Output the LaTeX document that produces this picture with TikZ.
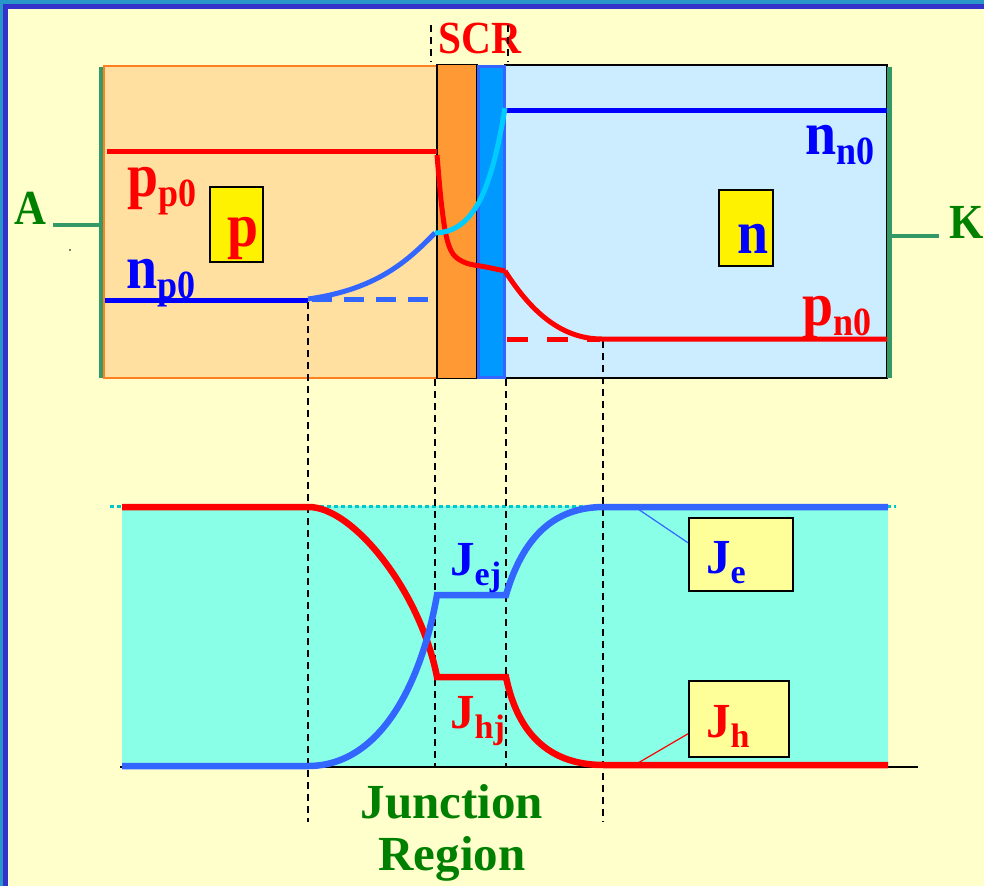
\documentclass[tikz,border=0pt]{standalone}
\usepackage{fontspec}
\setmainfont{Liberation Serif}
\newfontfamily\tallf[FakeStretch=0.9]{Liberation Serif}
\definecolor{bgyellow}{RGB}{255,255,204}
\definecolor{frameblue}{RGB}{51,51,204}
\definecolor{frameteal}{RGB}{40,150,200}
\definecolor{pregion}{RGB}{255,224,160}
\definecolor{porange}{RGB}{255,128,32}
\definecolor{scrorange}{RGB}{255,153,51}
\definecolor{stripblue}{RGB}{0,153,255}
\definecolor{stripborder}{RGB}{51,102,255}
\definecolor{nregion}{RGB}{204,236,255}
\definecolor{wiregreen}{RGB}{51,153,102}
\definecolor{txtgreen}{RGB}{0,128,0}
\definecolor{lblue}{RGB}{51,102,255}
\definecolor{cyanc}{RGB}{0,204,255}
\definecolor{aqua}{RGB}{136,255,230}
\definecolor{dotcyan}{RGB}{0,200,200}
\definecolor{jyellow}{RGB}{255,255,153}
\newcommand\mylab[2]{{\tallf\bfseries\fontsize{62}{62}\selectfont #1}\raisebox{-10pt}{\tallf\bfseries\fontsize{40}{40}\selectfont #2}}
\newcommand\jlab[2]{{\bfseries\fontsize{49}{49}\selectfont #1}\raisebox{-10pt}{\bfseries\fontsize{34}{34}\selectfont #2}}
\begin{document}
\begin{tikzpicture}[x=1pt,y=-1pt,
  guide/.style={black, line width=1.3, dash pattern=on 7pt off 5pt},
  wire/.style={wiregreen, line width=4.5},
  topcurve/.style={line width=5},
  botcurve/.style={line width=6.5},
  ybox/.style={draw=black, line width=1.5, fill=yellow, anchor=north west, inner sep=0},
  jbox/.style={draw=black, line width=1.5, fill=jyellow, anchor=north west, inner sep=0},
  lbl/.style={anchor=base west, inner sep=0},
  big/.style={font=\tallf\bfseries\fontsize{49}{49}\selectfont, inner sep=0}]
\useasboundingbox (0,0) rectangle (984,886);
% frame and background
\fill[frameteal] (0,0) rectangle (984,886);
\fill[frameblue] (3,4) rectangle (984,886);
\fill[bgyellow] (8,9) rectangle (984,886);
\fill[black] (70,250) circle (0.8);

% ---------- top device ----------
\filldraw[fill=pregion, draw=porange, line width=1.5] (104,66) rectangle (437,378);
\filldraw[fill=nregion, draw=black, line width=1.2] (505,65) rectangle (887,378);
\filldraw[fill=scrorange, draw=black, line width=1.2] (437,64.5) rectangle (477,378.5);
\filldraw[fill=stripblue, draw=stripborder, line width=3] (478.5,66.5) rectangle (504,377);

% contacts
\coordinate (Ltop) at (101,67);
\coordinate (Lbot) at (101,378);
\coordinate (Lmid) at (101,225);
\coordinate (Rtop) at (889.5,67);
\coordinate (Rbot) at (889.5,378);
\coordinate (Rmid) at (889.5,236);
\coordinate (Aend) at (53,225);
\coordinate (Kend) at (939,236);
\draw[wire] (Ltop) -- (Lbot);
\draw[wire] (Rtop) -- (Rbot);
\draw[wire, line cap=butt] (Aend) -- (Lmid);
\draw[wire, line cap=butt] (Rmid) -- (Kend);
\node[big, text=txtgreen, anchor=base west] (A) at (14,224) {A};
\node[big, text=txtgreen, anchor=base west] (K) at (949,238) {K};

% SCR
\node[inner sep=0, anchor=base, text=red, font=\tallf\bfseries\fontsize{46}{46}\selectfont] (SCR) at (480,53) {SCR};
\coordinate (g1a) at (431,25); \coordinate (g1b) at (431,62);
\coordinate (g2a) at (508,25); \coordinate (g2b) at (508,62);
\draw[guide] (g1a) -- (g1b);
\draw[guide] (g2a) -- (g2b);

% vertical guides
\coordinate (v1a) at (308,302); \coordinate (v1b) at (308,822);
\coordinate (v2a) at (435,379); \coordinate (v2b) at (435,766);
\coordinate (v3a) at (506,379); \coordinate (v3b) at (506,766);
\coordinate (v4a) at (603,341); \coordinate (v4b) at (603,822);

% ---------- bottom graph fill ----------
\fill[aqua] (122,506) rectangle (888,766);
\draw[dotcyan, line width=3, dash pattern=on 4pt off 3pt] (110,506) -- (896,506);
\draw[black, line width=1.2] (120,767) -- (918,767);

\draw[guide] (v1a) -- (v1b);
\draw[guide] (v2a) -- (v2b);
\draw[guide] (v3a) -- (v3b);
\draw[guide] (v4a) -- (v4b);

% top curves
\draw[topcurve, red] (107,151.5) -- (437,151.5);
\draw[topcurve, red] plot[smooth, tension=0.55] coordinates {(437,155) (441,200) (446,235) (453,254) (466,263) (486,267) (505,271)};
\draw[topcurve, red] (505,271) .. controls (530,310) and (560,339) .. (602,339) -- (887,339);
\draw[topcurve, red, dash pattern=on 21pt off 19pt] (507,339) -- (600,339);
\draw[topcurve, blue] (505,110) -- (887,110);
\draw[topcurve, blue] (105,300) -- (308,300);
\draw[topcurve, lblue, dash pattern=on 20pt off 12pt] (312,299) -- (436,299);
\draw[topcurve, lblue] (308,299) .. controls (380,289) and (410,258) .. (435,233);
\draw[topcurve, cyanc] (435,233) .. controls (476,232) and (492,185) .. (505,108);

% top labels
\node[lbl, text=red] (pp0) at (127,196) {\mylab{p}{p0}};
\node[lbl, text=blue] (np0) at (126,288) {\mylab{n}{p0}};
\node[lbl, text=blue] (nn0) at (805,154) {\mylab{n}{n0}};
\node[lbl, text=red] (pn0) at (802,325) {\mylab{p}{n0}};

\node[ybox, minimum width=53, minimum height=75] (pbox) at (209,186) {};
\node[anchor=base east, inner sep=0, text=red, font=\tallf\bfseries\fontsize{62}{62}\selectfont] (ptext) at ([xshift=-5pt, yshift=16pt]pbox.south east) {p};
\node[ybox, minimum width=54, minimum height=76] (nbox) at (718,189) {};
\node[anchor=base east, inner sep=0, text=blue, font=\tallf\bfseries\fontsize{62}{62}\selectfont] (ntext) at ([xshift=-5pt, yshift=13pt]nbox.south east) {n};

% bottom curves
\draw[botcurve, red] (122,507) -- (308,507) .. controls (352,506) and (420,590) .. (437,677) -- (506,677) .. controls (520,745) and (560,765) .. (604,765) -- (888,765);
\draw[botcurve, lblue] (122,766) -- (308,766) .. controls (382,766) and (422,680) .. (437,595) -- (506,595) .. controls (525,530) and (560,507) .. (604,507) -- (888,507);

% bottom labels
\node[lbl, text=blue] (Jej) at (450,575) {\jlab{J}{ej}};
\node[lbl, text=red] (Jhj) at (450,728) {\jlab{J}{hj}};

\node[jbox, minimum width=104, minimum height=73] (Jebox) at (688,517) {};
\node[lbl, text=blue] (Je) at (706,573) {\jlab{J}{e}};
\coordinate (JeTip) at (638,509);
\draw[lblue, line width=1.2] (JeTip) -- ([yshift=11.5pt]Jebox.west);

\node[jbox, minimum width=100, minimum height=76] (Jhbox) at (688,680) {};
\node[lbl, text=red] (Jh) at (706,737) {\jlab{J}{h}};
\coordinate (JhTip) at (638,763);
\draw[red, line width=1.2] (JhTip) -- ([yshift=-15pt]Jhbox.west);

% junction region
\node[anchor=base, inner sep=0, text=txtgreen, font=\bfseries\fontsize{49}{49}\selectfont] (junc) at (452,818) {Junction};
\node[anchor=base, inner sep=0, text=txtgreen, font=\bfseries\fontsize{49}{49}\selectfont] (regn) at (452,870) {Region};
\end{tikzpicture}
\end{document}
